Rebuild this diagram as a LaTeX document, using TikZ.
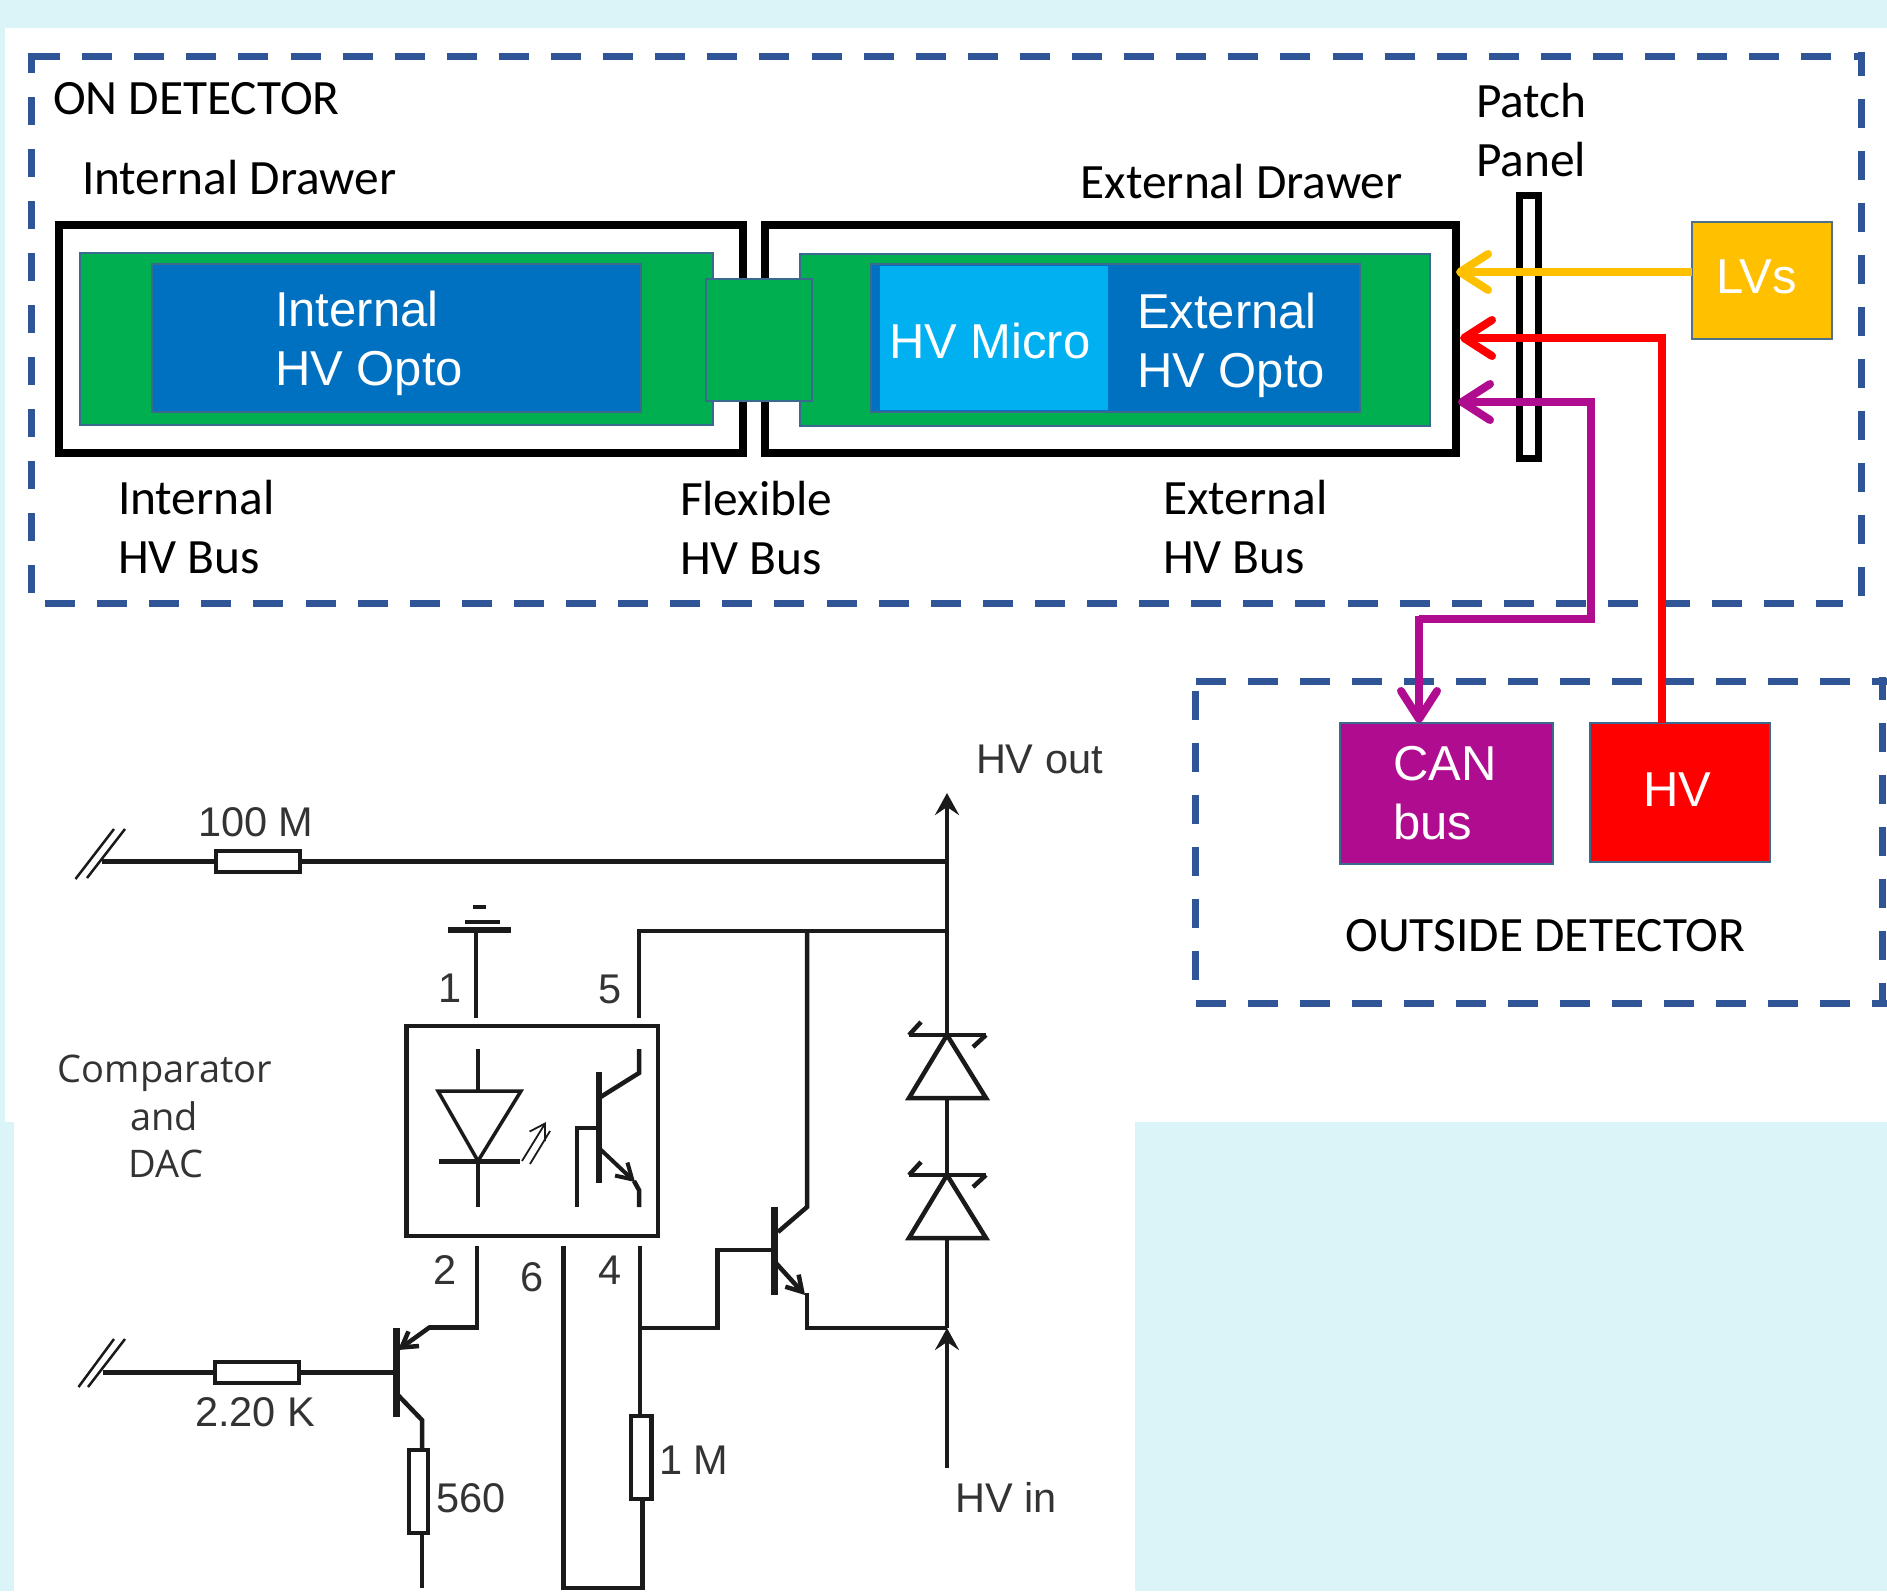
\documentclass[tikz,border=0pt]{standalone}
\usepackage{fontspec}
\setmainfont{Carlito}
\newfontfamily\arialf{Liberation Sans}
\newfontfamily\compf{Open Sans}
\usetikzlibrary{arrows.meta}
\definecolor{bgcyan}{HTML}{DAF4F8}
\definecolor{dashblue}{HTML}{2F5597}
\definecolor{grn}{HTML}{00B050}
\definecolor{blu}{HTML}{0070C0}
\definecolor{ltblu}{HTML}{00B0F0}
\definecolor{amber}{HTML}{FFC000}
\definecolor{purp}{HTML}{B00C8F}
\definecolor{edge}{HTML}{3B6A8F}
\definecolor{ink}{HTML}{1A1A1A}
\definecolor{soft}{HTML}{333333}
\tikzset{
  dashside/.style={draw=dashblue,line width=7pt},
  blockbox/.style={rectangle,inner sep=0pt,outer sep=0pt,draw=edge,line width=2pt},
  drawerbox/.style={rectangle,inner sep=0pt,outer sep=0pt,draw=black,line width=8pt},
  blacklab/.style={anchor=base west,inner sep=0pt,outer sep=0pt,text=black,align=left,font=\fontsize{49.4}{59}\selectfont},
  whitelab/.style={anchor=base west,inner sep=0pt,outer sep=0pt,text=white,align=left,font=\arialf\fontsize{49}{59}\selectfont},
  cctlab/.style={anchor=base west,inner sep=0pt,outer sep=0pt,text=soft,font=\arialf\fontsize{41.5}{48}\selectfont},
  complab/.style={anchor=base,inner sep=0pt,outer sep=0pt,text=soft,font=\compf\fontsize{38}{48}\selectfont},
  wire/.style={draw=ink,line width=4.5pt,line join=miter},
  thinwire/.style={draw=ink,line width=2.5pt},
  heavybar/.style={draw=ink,line width=7pt},
  resbox/.style={rectangle,inner sep=0pt,outer sep=0pt,draw=ink,fill=white,line width=4.5pt},
  feed/.style={line width=8pt,-{Straight Barb[length=28pt,width=36pt,round]}},
  smalltip/.style={-{Straight Barb[length=15pt,width=18pt]}},
  bigtip/.style={-{Stealth[length=22pt,width=24pt,inset=8pt]}},
}
% name, x0, y0, x1, y1, style
\newcommand{\rectnode}[6]{\node[#6,minimum width={(#4)-(#2)},minimum height={(#5)-(#3)}] (#1) at ({((#2)+(#4))/2},{((#3)+(#5))/2}) {};}
\newcommand{\zener}[3]{% x, bar y, base y
  \draw[wire,line join=round] (#1-38,#2) -- (#1+39,#2);
  \draw[wire,line join=round] (#1-38,#2) -- (#1-26,#2-13);
  \draw[wire,line join=round] (#1+39,#2) -- (#1+26,#2+12);
  \draw[wire,line join=miter] (#1,#2) -- (#1-38,#3) -- (#1+39,#3) -- cycle;
}
\begin{document}
\begin{tikzpicture}[x=1pt,y=-1pt]
\useasboundingbox (0,0) rectangle (1887,1591);
% backdrop
\fill[bgcyan] (0,0) rectangle (1887,1591);
\fill[white] (5,28) rectangle (1887,1122);
\fill[white] (14,1100) rectangle (1135,1591);
% ON DETECTOR dashed frame
\draw[dashside,dash pattern=on 30pt off 22.1pt] (30,56.5) -- (1864,56.5);
\draw[dashside,dash pattern=on 30pt off 22.1pt] (45,603) -- (1843,603);
\draw[dashside,dash pattern=on 28pt off 24pt,dash phase=8pt] (31,53) -- (31,593);
\draw[dashside,dash pattern=on 29pt off 23pt,dash phase=5pt] (1861,52) -- (1861,597);
% OUTSIDE DETECTOR dashed frame
\draw[dashside,dash pattern=on 30pt off 22pt] (1196,681) -- (1887,681);
\draw[dashside,dash pattern=on 30pt off 22pt] (1196,1003) -- (1887,1003);
\draw[dashside,dash pattern=on 29pt off 23pt] (1195,691) -- (1195,981);
\draw[dashside,dash pattern=on 29pt off 23pt,dash phase=6pt] (1882,677) -- (1882,1006);
% drawers
\rectnode{drawerI}{59}{225}{743}{452.5}{drawerbox}
\rectnode{drawerE}{765}{225}{1456}{452.5}{drawerbox}
\rectnode{busI}{80}{253}{713}{425}{blockbox,fill=grn}
\rectnode{busE}{800}{254}{1430}{426}{blockbox,fill=grn}
\rectnode{busF}{706}{279}{812}{401}{blockbox,fill=grn}
\rectnode{optoI}{151.5}{264}{641}{412}{blockbox,fill=blu}
\rectnode{optoE}{871}{264}{1359.5}{412}{blockbox,fill=blu}
\fill[ltblu] (880,266) rectangle (1108,410);
\node[whitelab] (tOptoI) at (275,385) {Internal\\HV Opto};
\node[whitelab] (tMicro) at (889,358) {HV Micro};
\node[whitelab] (tOptoE) at (1137,387) {External\\HV Opto};
% patch panel
\rectnode{patch}{1519}{195.5}{1538}{458.5}{drawerbox,fill=white,line width=7pt}
% sources
\rectnode{lvs}{1692}{222}{1832}{339}{blockbox,fill=amber,draw=edge!70!gray}
\rectnode{can}{1340}{723}{1553}{864}{blockbox,fill=purp}
\rectnode{hv}{1590}{723}{1770}{862}{blockbox,fill=red}
\node[whitelab] (tLVs) at (1716,293) {LVs};
\node[whitelab] (tCAN) at (1393,839) {CAN\\bus};
\node[whitelab] (tHV) at (1643,806) {HV};
% feeds
\coordinate (yIn) at (1456,272);
\coordinate (rIn) at (1460,338);
\coordinate (pIn) at (1458,402);
\draw[feed,draw=amber] (lvs.west |- yIn) -- (yIn);
\draw[feed,draw=red] (hv.north -| 1661.5,723) -- (1661.5,334) -- (1661.5,338) -- (rIn);
\draw[feed,draw=purp] (1419,619) -- (1591,619) -- (1591,402) -- (pIn);
\draw[feed,draw=purp] (1419,616) -- (can.north -| 1419,723);
% labels
\node[blacklab] (tOn) at (53,114) {ON DETECTOR};
\node[blacklab] (tDrI) at (82,194) {Internal Drawer};
\node[blacklab] (tDrE) at (1080.5,198) {External Drawer};
\node[blacklab] (tPP) at (1476,176) {Patch\\Panel};
\node[blacklab] (tBusI) at (118,573) {Internal\\HV Bus};
\node[blacklab] (tBusF) at (680,574) {Flexible\\HV Bus};
\node[blacklab] (tBusE) at (1163,573) {External\\HV Bus};
\node[blacklab] (tOut) at (1345.5,951) {OUTSIDE DETECTOR};
% --- circuit ---
% resistors
\rectnode{r100}{216}{851}{300}{872}{resbox}
\rectnode{r220}{215}{1362}{299}{1383}{resbox}
\rectnode{r560}{409}{1450}{428}{1533}{resbox}
\rectnode{r1M}{631}{1416}{651.5}{1499}{resbox}
\rectnode{opto}{406.5}{1026}{658}{1236}{resbox,fill=none}
% top rail
\draw[thinwire] (75.5,879) -- (114,829);
\draw[thinwire] (87,878) -- (125,829);
\draw[wire] (102,861.5) -- (r100.west);
\draw[wire] (r100.east) -- (947,861.5);
\coordinate (hvoutTip) at (947,793);
\coordinate (d1top) at (947,1035);
\draw[wire,bigtip] (d1top) -- (hvoutTip);
\draw[wire] (639,1018) -- (639,931) -- (947,931);
% ground and pin 1
\draw[wire] (476,930) -- (476,1018);
\draw[draw=ink,line width=6pt] (448,930) -- (511,930);
\draw[wire] (465,922) -- (500,922);
\draw[wire] (473,907) -- (485.5,907);
% LED
\draw[wire] (478,1049) -- (478,1091);
\draw[wire] (478,1161) -- (478,1207);
\draw[wire,line width=3.5pt] (438,1091) -- (521,1091) -- (478,1161) -- cycle;
\draw[draw=ink,line width=5pt] (439,1161) -- (519.5,1161);
\draw[thinwire,line width=1.8pt,smalltip] (522,1161) -- (546,1122);
\draw[thinwire,line width=1.8pt] (530,1164) -- (550,1131);
% phototransistor
\draw[draw=ink,line width=6pt] (599,1072) -- (599,1183);
\draw[wire] (599,1098) -- (639,1073) -- (639,1049);
\draw[wire,smalltip,line width=4pt] (599,1148) -- (635,1182);
\draw[wire] (634,1181) -- (639,1190) -- (639,1207);
\draw[wire] (577,1207) -- (577,1128) -- (599,1128);
% zeners
\zener{947}{1035}{1098}
\zener{947}{1175}{1238}
\draw[wire] (947,1098) -- (947,1175);
\coordinate (hvinTail) at (947,1468);
\coordinate (hvinTip) at (947,1328);
\draw[wire] (947,1238) -- (hvinTip);
\draw[wire,line width=3.5pt,bigtip] (hvinTail) -- (hvinTip);
% mid transistor
\draw[heavybar] (774,1207) -- (774,1295);
\draw[wire] (807,931) -- (807,1207) -- (778,1232);
\draw[wire,smalltip] (775,1262) -- (805,1295);
\draw[wire] (807,1293) -- (807,1328) -- (hvinTip);
\draw[wire] (774,1250) -- (717.5,1250) -- (717.5,1328) -- (640,1328);
% pins 4 and 6, 1M
\draw[wire] (640,1246) -- (r1M.north -| 640,1416);
\draw[wire] (r1M.south -| 642.7,1499) -- (642.7,1588) -- (563.5,1588) -- (563.5,1246);
% pin 2 transistor
\draw[heavybar] (396,1328) -- (396,1417);
\draw[wire] (477,1246) -- (477,1327.5) -- (429,1327.5);
\draw[wire,smalltip] (430,1327) -- (398,1350);
\draw[thinwire] (78.5,1387) -- (114,1339);
\draw[thinwire] (88,1387) -- (125,1339);
\draw[wire] (103,1372.5) -- (r220.west);
\draw[wire] (r220.east) -- (396,1372.5);
\draw[wire] (396,1393) -- (422,1420) -- (r560.north -| 422,1450);
\draw[wire] (r560.south -| 422,1533) -- (422,1588);
% circuit labels
\node[cctlab] (t100) at (198,836) {100 M};
\node[cctlab] (tOutV) at (976,773) {HV out};
\node[cctlab] (p1) at (438,1002) {1};
\node[cctlab] (p5) at (598,1003) {5};
\node[cctlab] (p2) at (433,1284) {2};
\node[cctlab] (p6) at (520,1291) {6};
\node[cctlab] (p4) at (598,1284) {4};
\node[cctlab] (t220) at (195,1426) {2.20 K};
\node[cctlab] (t560) at (436,1512) {560};
\node[cctlab] (t1M) at (659,1474) {1 M};
\node[cctlab] (tInV) at (955.5,1512) {HV in};
\node[complab] (c1) at (165,1082) {Comparator};
\node[complab] (c2) at (164,1130) {and};
\node[complab] (c3) at (166,1177) {DAC};
\end{tikzpicture}
\end{document}
